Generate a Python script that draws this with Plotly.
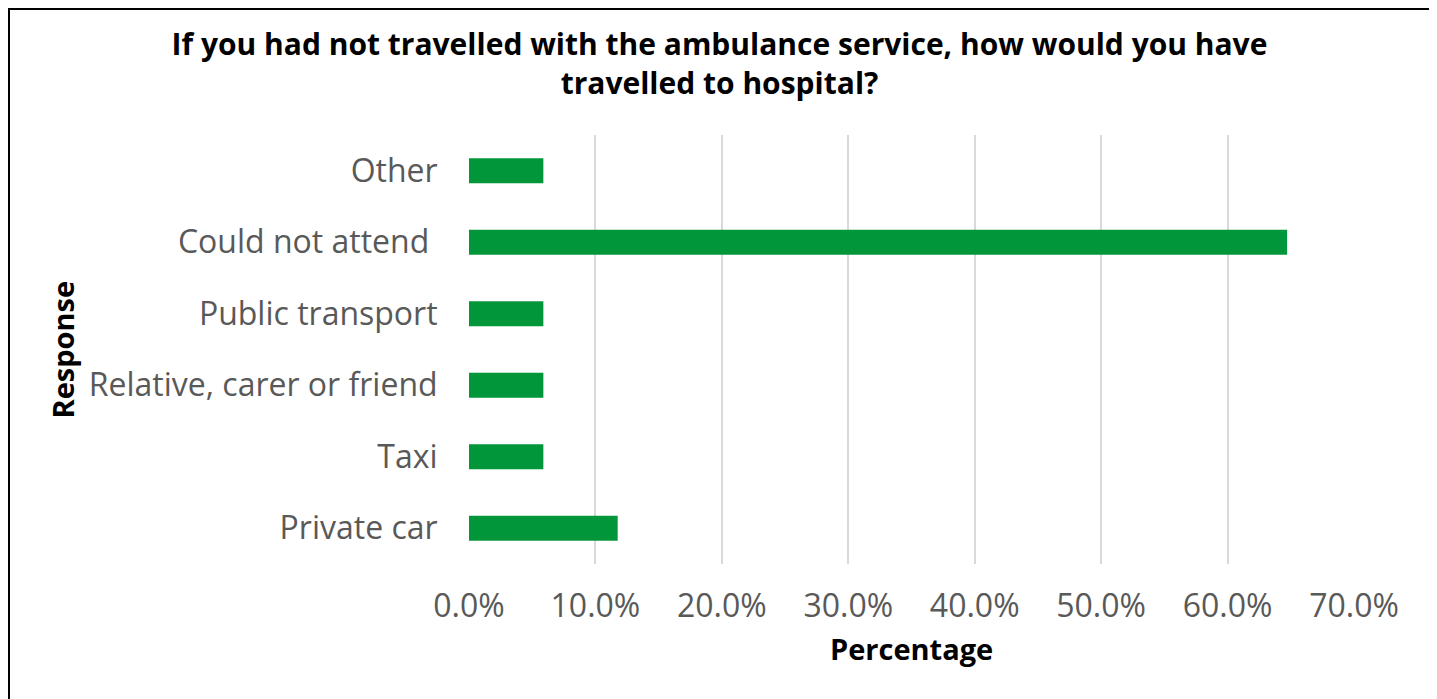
import plotly.graph_objects as go

categories = ["Private car", "Taxi", "Relative, carer or friend", "Public transport", "Could not attend\u00a0", "Other"]
values = [11.76, 5.88, 5.88, 5.88, 64.71, 5.88]
tick_vals = [0, 10, 20, 30, 40, 50, 60, 70]
tick_text = ["0.0%", "10.0%", "20.0%", "30.0%", "40.0%", "50.0%", "60.0%", "70.0%"]

# page has 8px body margin; figure coords = page coords - 8
W, H = 1429, 691
L, R, T, B = 461, 1429 - 1346, 127, 691 - 556
pw, ph = W - L - R, H - T - B

fig = go.Figure(go.Bar(
    x=values, y=categories, orientation="h",
    marker=dict(color="#009639", line=dict(width=0)),
    hoverinfo="x+y",
))

font = "Open Sans, Noto Sans, sans-serif"
fig.update_layout(
    width=W, height=H,
    margin=dict(l=L, r=R, t=T, b=B),
    paper_bgcolor="white", plot_bgcolor="white",
    bargap=0.65,
    showlegend=False,
    title=dict(
        text="If you had not travelled with the ambulance service, how would you have<br>travelled to hospital?",
        x=711.5 / W, xanchor="center", xref="container",
        y=1 - 47 / H, yanchor="middle", yref="container",
        font=dict(family=font, size=30, color="black", weight="bold"),
    ),
    xaxis=dict(
        range=[0, 70], tickvals=tick_vals, ticktext=tick_text,
        showgrid=True, gridcolor="#d9d9d9", gridwidth=2,
        zeroline=False, showline=False,
        ticks="outside", ticklen=14, tickcolor="rgba(0,0,0,0)",
        tickfont=dict(family=font, size=32, color="#595959"),
        fixedrange=True,
    ),
    yaxis=dict(
        showgrid=False, zeroline=False, showline=False,
        ticks="outside", ticklen=24, tickcolor="rgba(0,0,0,0)",
        tickfont=dict(family=font, size=32, color="#595959"),
        fixedrange=True,
    ),
)

fig.add_annotation(
    text="Response", textangle=-90, xref="paper", yref="paper",
    x=(54 - L) / pw, y=0.5, xanchor="center", yanchor="middle", showarrow=False,
    font=dict(family=font, size=29, color="black", weight="bold"),
)
fig.add_annotation(
    text="Percentage", xref="paper", yref="paper",
    x=0.5, y=(H - B - 640) / ph, xanchor="center", yanchor="middle", showarrow=False,
    font=dict(family=font, size=29, color="black", weight="bold"),
)

fig.add_shape(
    type="rect", xref="paper", yref="paper",
    x0=(1 - L) / pw, x1=(1422 - L) / pw,
    y0=(H - B - 700) / ph, y1=(H - B - 1) / ph,
    line=dict(color="black", width=2), fillcolor="rgba(0,0,0,0)", layer="above",
)

fig.write_html("out.html")
